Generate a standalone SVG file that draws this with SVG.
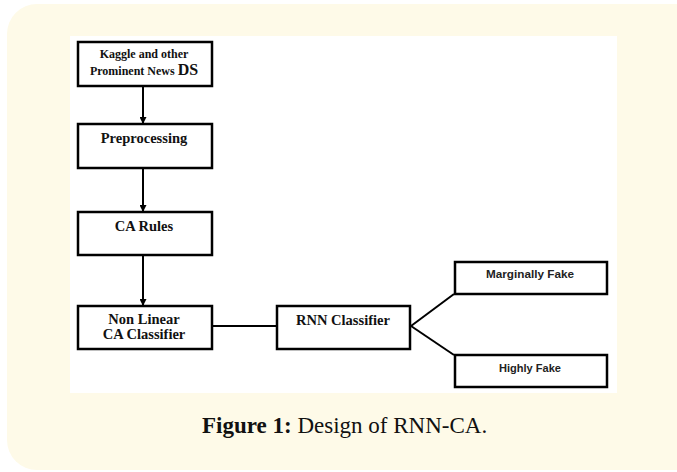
<svg xmlns="http://www.w3.org/2000/svg" width="677" height="472" viewBox="0 0 677 472">
<style>
.box{fill:#ffffff;stroke:#000000;stroke-width:2.5}
.line{stroke:#000000;stroke-width:2;fill:none}
.tnr{font-family:"Liberation Serif","Times New Roman",serif;font-weight:bold;fill:#111111;text-anchor:middle}
.sans{font-family:"Liberation Sans",Arial,sans-serif;font-weight:bold;fill:#222222;text-anchor:middle;font-size:11px}
.cap{font-family:"Liberation Serif","Times New Roman",serif;font-size:23px;fill:#111111}
</style>
<defs>
<marker id="arr" markerWidth="7" markerHeight="7" refX="6" refY="3.5" orient="auto" markerUnits="userSpaceOnUse">
<path d="M0,0 L7,3.5 L0,7 Z" fill="#000000"/>
</marker>
</defs>
<rect x="7" y="4" width="700" height="466" rx="30" fill="#fefae8"/>
<rect x="70" y="36" width="547" height="357" fill="#ffffff"/>
<g id="connectors">
<line class="line" x1="143" y1="87" x2="143" y2="123" marker-end="url(#arr)"/>
<line class="line" x1="143" y1="169" x2="143" y2="211" marker-end="url(#arr)"/>
<line class="line" x1="143" y1="256" x2="143" y2="305" marker-end="url(#arr)"/>
<line class="line" x1="213" y1="326" x2="276" y2="326"/>
<line class="line" x1="411" y1="326" x2="454" y2="294"/>
<line class="line" x1="411" y1="326" x2="454" y2="355"/>
</g>
<g id="n1">
<rect class="box" x="78" y="42" width="134" height="44"/>
<text class="tnr" x="144" y="58" font-size="12">Kaggle and other</text>
<text class="tnr" x="144" y="75" font-size="12">Prominent News <tspan font-size="16">DS</tspan></text>
</g>
<g id="n2">
<rect class="box" x="78" y="124" width="134" height="44"/>
<text class="tnr" x="144" y="143" font-size="14.5">Preprocessing</text>
</g>
<g id="n3">
<rect class="box" x="78" y="212" width="134" height="43"/>
<text class="tnr" x="144" y="231" font-size="14.5">CA Rules</text>
</g>
<g id="n4">
<rect class="box" x="78" y="306" width="134" height="43"/>
<text class="tnr" x="144" y="324" font-size="14.5">Non Linear</text>
<text class="tnr" x="144" y="339" font-size="14.5">CA Classifier</text>
</g>
<g id="n5">
<rect class="box" x="277" y="306" width="133" height="43"/>
<text class="tnr" x="343" y="325" font-size="14.5">RNN Classifier</text>
</g>
<g id="n6">
<rect class="box" x="455" y="262" width="152" height="32"/>
<text class="sans" x="530" y="278" textLength="88" lengthAdjust="spacingAndGlyphs">Marginally Fake</text>
</g>
<g id="n7">
<rect class="box" x="455" y="355" width="152" height="32"/>
<text class="sans" x="530" y="372" textLength="62" lengthAdjust="spacingAndGlyphs">Highly Fake</text>
</g>
<text class="cap" x="202" y="433"><tspan font-weight="bold">Figure 1:</tspan> Design of RNN-CA.</text>
</svg>
